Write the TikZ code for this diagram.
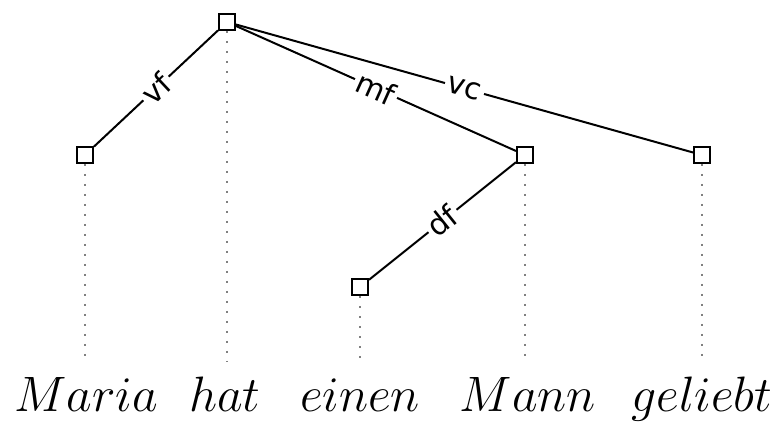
\documentclass[tikz,border=0pt]{standalone}
\usepackage{fontspec}
\newfontfamily\labfont{DejaVu Sans}
\begin{document}
\begin{tikzpicture}[x=0.5pt,y=-0.5pt,
  tnode/.style={draw,line width=1pt,minimum size=8pt,inner sep=0pt,fill=white},
  edge/.style={line width=1pt},
  elab/.style={midway,sloped,fill=white,inner sep=1.5pt,font=\labfont\fontsize{15}{17}\selectfont},
  proj/.style={gray,line width=0.8pt,dash pattern=on 0.8pt off 4.2pt},
  word/.style={anchor=base,inner sep=0pt,font=\fontsize{25}{30}\selectfont}]
\useasboundingbox (0,0) rectangle (782,426);
% projection lines
\coordinate (e1) at (85,362);
\coordinate (e2) at (227,362);
\coordinate (e3) at (360,362);
\coordinate (e4) at (525,362);
\coordinate (e5) at (702,362);
\node[tnode] (root) at (227,22) {};
\node[tnode] (vf) at (85,155) {};
\node[tnode] (mf) at (525,155) {};
\node[tnode] (vc) at (702,155) {};
\node[tnode] (df) at (360,287) {};
\draw[proj] (root.south) -- (e2);
\draw[proj] (vf.south) -- (e1);
\draw[proj] (mf.south) -- (e4);
\draw[proj] (vc.south) -- (e5);
\draw[proj] (df.south) -- (e3);
\draw[edge] (root) -- node[elab] {vf} (vf);
\draw[edge] (root) -- node[elab] {vc} (vc);
\draw[edge] (root) -- node[elab] {mf} (mf);
\draw[edge] (mf) -- node[elab] {df} (df);
\node[word] (w1) at (86,412) {$Maria$};
\node[word] (w2) at (225,412) {$hat$};
\node[word] (w3) at (360,412) {$einen$};
\node[word] (w4) at (528,412) {$Mann$};
\node[word] (w5) at (702,412) {$geliebt$};
\end{tikzpicture}
\end{document}
